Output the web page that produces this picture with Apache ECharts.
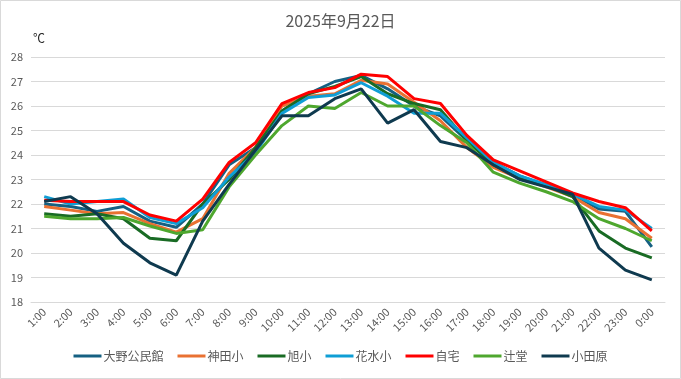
<!DOCTYPE html>
<html>
<head>
<meta charset="utf-8">
<script src="https://cdn.jsdelivr.net/npm/echarts@6/dist/echarts.min.js"></script>
<style>
html,body{margin:0;padding:0;background:#fff;}
#chart{width:681px;height:379px;}
</style>
</head>
<body>
<div id="chart"></div>
<script>
const title = "2025年9月22日";
const unitLabel = "℃";
const hours = ["1:00","2:00","3:00","4:00","5:00","6:00","7:00","8:00","9:00","10:00","11:00","12:00","13:00","14:00","15:00","16:00","17:00","18:00","19:00","20:00","21:00","22:00","23:00","0:00"];
const seriesNames = ["大野公民館","神田小","旭小","花水小","自宅","辻堂","小田原"];
const seriesColors = ["#156082","#E97132","#196B24","#0F9ED5","#FF0000","#4EA72E","#0F3A4F"];
const ono     = [22.0,21.9,21.7,21.9,21.3,21.05,22.0,23.6,24.3,25.8,26.5,27.0,27.25,26.7,26.0,25.6,24.6,23.7,23.15,22.75,22.4,21.8,21.7,20.25];
const kanda   = [21.9,21.75,21.6,21.65,21.2,20.85,21.4,23.25,24.3,26.0,26.4,26.5,27.05,26.9,26.15,25.4,24.3,23.5,23.05,22.7,22.3,21.65,21.4,20.6];
const asahi   = [21.6,21.5,21.6,21.4,20.6,20.5,22.0,23.0,24.3,25.8,26.5,26.8,27.2,26.5,26.1,25.85,24.6,23.6,23.1,22.75,22.3,20.9,20.2,19.8];
const hanamizu= [22.3,22.0,22.1,22.2,21.45,21.2,21.85,23.1,24.1,25.7,26.35,26.45,26.95,26.4,25.7,25.7,24.7,23.7,23.15,22.8,22.4,21.9,21.75,21.0];
const jitaku  = [22.15,22.1,22.1,22.1,21.55,21.3,22.2,23.7,24.5,26.1,26.55,26.75,27.3,27.2,26.3,26.1,24.8,23.8,23.35,22.9,22.45,22.1,21.85,20.9];
const tsujido = [21.5,21.4,21.4,21.45,21.1,20.8,20.95,22.7,24.0,25.2,26.0,25.9,26.55,26.0,26.0,25.2,24.5,23.3,22.85,22.5,22.1,21.4,21.0,20.5];
const odawara = [22.1,22.3,21.6,20.4,19.6,19.1,21.3,22.8,24.2,25.6,25.6,26.3,26.7,25.3,25.85,24.55,24.3,23.6,23.0,22.7,22.4,20.2,19.3,18.9];
const allData = [ono,kanda,asahi,hanamizu,jitaku,tsujido,odawara];

const font = '"Noto Sans CJK JP","Noto Sans",sans-serif';
const chart = echarts.init(document.getElementById('chart'), null, {renderer:'canvas'});
chart.setOption({
  animation:false,
  backgroundColor:'#fff',
  title:{text:title,left:'center',top:8,textStyle:{fontFamily:font,fontSize:16,fontWeight:'normal',color:'#595959'}},
  graphic:[
    {type:'rect',shape:{x:0.5,y:0.5,width:680,height:378},style:{fill:'none',stroke:'#d9d9d9',lineWidth:1},silent:true},
    {type:'text',left:33,top:32,style:{text:unitLabel,font:'12px '+font,fill:'#262626'}}
  ],
  legend:{
    bottom:12,left:'center',itemWidth:28,itemHeight:3,itemGap:14,
    icon:'rect',
    textStyle:{fontFamily:font,fontSize:12,color:'#595959',padding:[0,0,0,-3]},
    data:seriesNames
  },
  grid:{left:31,right:16,top:57,bottom:77},
  xAxis:{
    type:'category',data:hours,boundaryGap:true,
    axisLine:{show:true,lineStyle:{color:'#d9d9d9'}},
    axisTick:{show:false},
    axisLabel:{rotate:45,fontFamily:font,fontSize:11,color:'#595959',margin:8,interval:0}
  },
  yAxis:{
    type:'value',min:18,max:28,interval:1,
    axisLine:{show:false},axisTick:{show:false},
    splitLine:{lineStyle:{color:'#d9d9d9',width:1}},
    axisLabel:{fontFamily:font,fontSize:11,color:'#595959',margin:8}
  },
  series:seriesNames.map((n,i)=>({
    name:n,type:'line',data:allData[i],symbol:'none',
    lineStyle:{width:3,color:seriesColors[i]},itemStyle:{color:seriesColors[i]}
  }))
});
</script>
</body>
</html>
